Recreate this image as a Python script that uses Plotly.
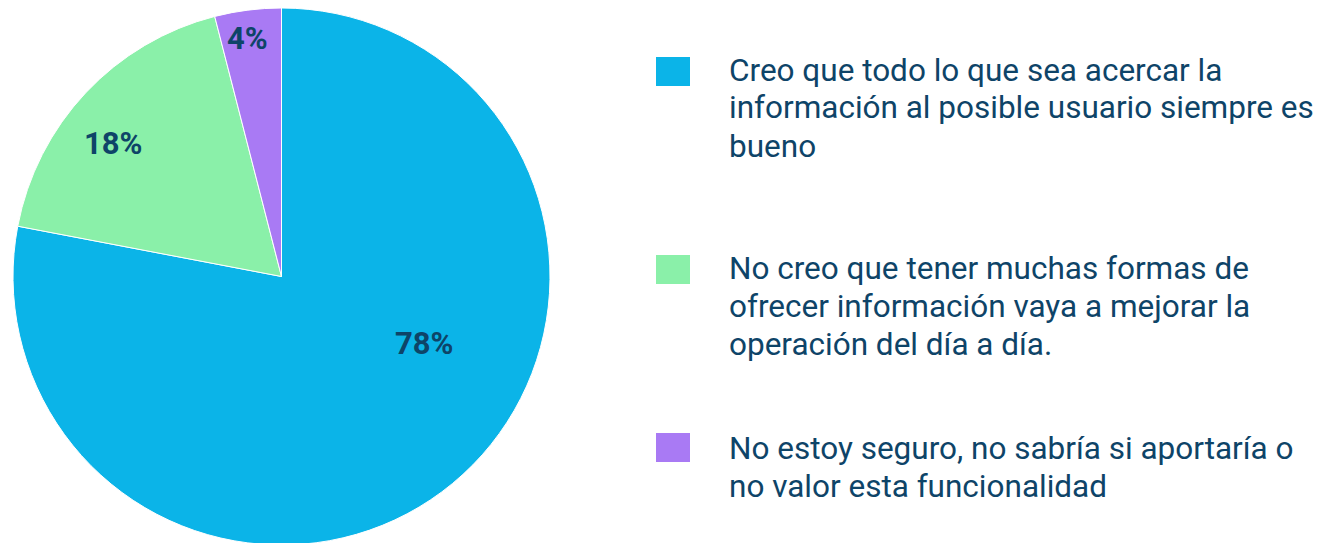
import plotly.graph_objects as go

W, H = 1327, 543
OFF = 8  # page body margin of the rendered html

categories = [
    "Creo que todo lo que sea acercar la<br>información al posible usuario siempre es<br>bueno",
    "No creo que tener muchas formas de<br>ofrecer información vaya a mejorar la<br>operación del día a día.",
    "No estoy seguro, no sabría si aportaría o<br>no valor esta funcionalidad",
]
values = [78, 18, 4]
colors = ["#0BB4E8", "#8AF0A9", "#A97AF4"]
text_color = "#0E4468"


def px_x(X):
    return (X - OFF) / W


def px_y(Y):
    return 1 - (Y - OFF) / H


fig = go.Figure()
fig.add_trace(go.Pie(
    labels=categories,
    values=values,
    sort=False,
    direction="clockwise",
    rotation=0,
    marker=dict(colors=colors, line=dict(color="white", width=1)),
    textinfo="none",
    domain=dict(x=[px_x(13), px_x(550)], y=[1 - 537 / H, 1]),
    showlegend=False,
    hoverinfo="label+percent",
))

# percentage labels
total = sum(values)
label_pos = [(424, 344), (114, 144), (247, 40)]
for v, (lx, ly) in zip(values, label_pos):
    fig.add_annotation(xref="paper", yref="paper", x=px_x(lx), y=px_y(ly - 1),
                       xanchor="center", yanchor="middle", showarrow=False,
                       text=f"<b>{round(100 * v / total)}%</b>",
                       font=dict(family="Roboto", size=31, color=text_color))

# manual legend (square + wrapped text, one annotation per line)
square_tops = [57, 255, 433]
first_line_centers = [70, 268, 448]
LINE = 38
for cat, col, sq, fc in zip(categories, colors, square_tops, first_line_centers):
    fig.add_shape(type="rect", xref="paper", yref="paper",
                  x0=px_x(656), x1=px_x(690), y0=px_y(sq), y1=px_y(sq + 29),
                  fillcolor=col, line=dict(width=0))
    for i, line in enumerate(cat.split("<br>")):
        fig.add_annotation(xref="paper", yref="paper", x=px_x(727),
                           y=px_y(fc + i * LINE),
                           xanchor="left", yanchor="middle", align="left",
                           text=line, showarrow=False,
                           font=dict(family="Roboto", size=31.5, color=text_color))

fig.update_layout(
    width=W, height=H,
    margin=dict(l=0, r=0, t=0, b=0),
    paper_bgcolor="white", plot_bgcolor="white",
)

fig.write_html("out.html")
